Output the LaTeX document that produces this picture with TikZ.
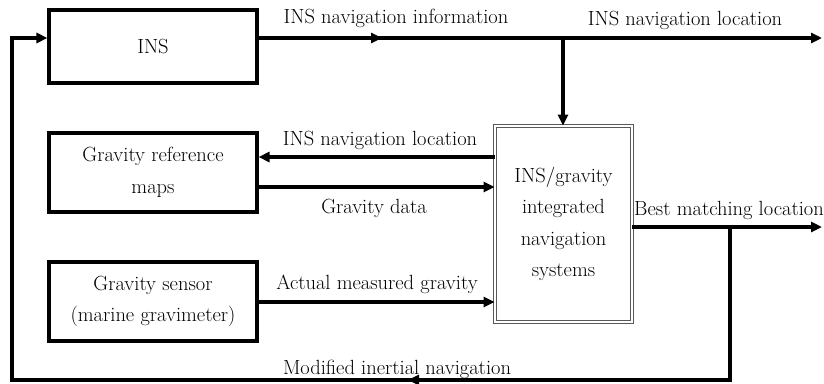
\documentclass[tikz,border=0pt]{standalone}
\usetikzlibrary{arrows.meta}
\tikzset{
  txt/.style={font=\fontsize{20.5}{31.5}\selectfont,inner sep=0pt},
  block/.style={txt,draw,line width=3.1pt,minimum width=208pt,align=center},
  mainblock/.style={txt,draw=gray!70!black,double,line width=0.8pt,double distance=1.6pt,
    minimum width=137pt,minimum height=196pt,align=center},
  flow/.style={line width=3.1pt},
  tip/.tip={Triangle[length=11pt,width=10pt]}
}
\begin{document}
\begin{tikzpicture}[x=1pt,y=-1pt]
  \useasboundingbox (0,0) rectangle (824,383);
  % blocks
  \node[block,minimum height=73pt] (ins) at (153,46.5) {INS};
  \node[block,minimum height=79pt] (maps) at (153,172.5) {Gravity reference\\maps};
  \node[block,minimum height=79pt] (sensor) at (153,301.5) {Gravity sensor\\(marine gravimeter)};
  \node[mainblock] (ings) at (563.5,224) {INS/gravity\\integrated\\navigation\\systems};
  % points on the connectors
  \coordinate (top) at (822,38);
  \coordinate (split) at (563,38);
  \coordinate (midarr) at (382,38);
  \coordinate (rowloc) at (0,157);
  \coordinate (rowdata) at (0,187);
  \coordinate (rowmeas) at (0,302);
  \coordinate (best) at (822,227);
  \coordinate (fork) at (730,227);
  \coordinate (corner) at (730,380);
  \coordinate (botarr) at (408,380);
  \coordinate (leftbot) at (12,380);
  \coordinate (lefttop) at (12,38);
  % INS output
  \draw[flow,-tip] (ins.east |- top) -- (top);
  \draw[flow,-tip] (ins.east |- top) -- (midarr);
  \draw[flow,-tip] (split) -- (split |- ings.north);
  % map and sensor
  \draw[flow,-tip] (ings.west |- rowloc) -- (maps.east |- rowloc);
  \draw[flow,-tip] (maps.east |- rowdata) -- (ings.west |- rowdata);
  \draw[flow,-tip] (sensor.east |- rowmeas) -- (ings.west |- rowmeas);
  % output and feedback
  \draw[flow,-tip] (ings.east |- best) -- (best);
  \draw[flow,-tip] (fork) -- (corner) -- (leftbot) -- (lefttop) -- (ins.west |- lefttop);
  \draw[flow,-tip] (corner) -- (botarr);
  % labels
  \node[txt] (linfo) at (396,18) {INS navigation information};
  \node[txt] (ltop) at (685,20) {INS navigation location};
  \node[txt] (lloc) at (380,140) {INS navigation location};
  \node[txt] (ldata) at (374,208) {Gravity data};
  \node[txt] (lmeas) at (377,284) {Actual measured gravity};
  \node[txt] (lbest) at (729,210) {Best matching location};
  \node[txt] (lmod) at (397,369) {Modified inertial navigation};
\end{tikzpicture}
\end{document}
